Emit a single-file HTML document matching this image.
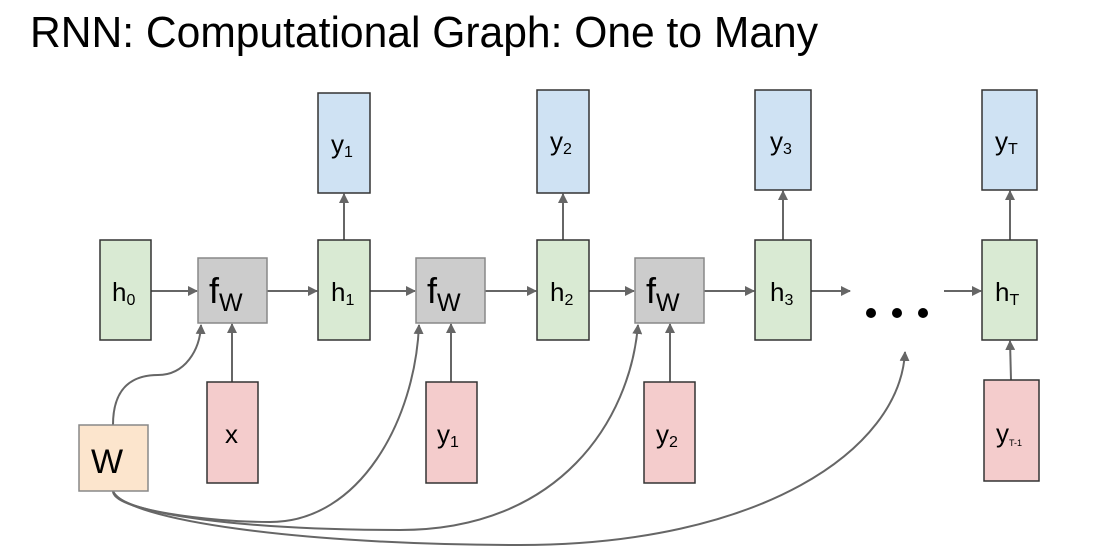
<!DOCTYPE html>
<html><head><meta charset="utf-8"><style>
html,body{margin:0;padding:0;background:#fff}
svg{display:block}
text{font-family:"Liberation Sans",sans-serif;fill:#000}
</style></head><body>
<svg width="1105" height="552" viewBox="0 0 1105 552" xmlns="http://www.w3.org/2000/svg">
<defs>
<marker id="a" viewBox="0 0 10 10" refX="9" refY="5" markerWidth="5" markerHeight="5" orient="auto-start-reverse">
<path d="M0,0 L10,5 L0,10 z" fill="#666"/></marker>
</defs>
<text x="30" y="47" font-size="44" textLength="788" lengthAdjust="spacingAndGlyphs">RNN: Computational Graph: One to Many</text>

<g stroke="#666" stroke-width="2" fill="none" marker-end="url(#a)">
<line x1="151" y1="291" x2="197" y2="291"/>
<line x1="267" y1="291" x2="317" y2="291"/>
<line x1="370" y1="291" x2="415" y2="291"/>
<line x1="485" y1="291" x2="536" y2="291"/>
<line x1="589" y1="291" x2="634" y2="291"/>
<line x1="704" y1="291" x2="754" y2="291"/>
<line x1="811" y1="291" x2="850" y2="291"/>
<line x1="944" y1="291" x2="981" y2="291"/>
<line x1="344" y1="240" x2="344" y2="194"/>
<line x1="563" y1="240" x2="563" y2="194"/>
<line x1="783" y1="240" x2="783" y2="191"/>
<line x1="1010" y1="240" x2="1010" y2="191"/>
<line x1="232" y1="382" x2="232" y2="324"/>
<line x1="451" y1="382" x2="451" y2="324"/>
<line x1="670" y1="382" x2="670" y2="324"/>
<line x1="1011" y1="380" x2="1010" y2="341"/>
<path d="M113,425 C113,390 130,375 158,375 C185,375 200,350 201,325"/>
<path d="M113,491 C113,510 210,522 270,522 C360,522 415,420 419,325"/>
<path d="M113,491 C120,515 250,530 400,530 C560,530 630,420 638,325"/>
<path d="M113,491 C125,520 300,545 520,545 C760,545 900,450 905,352"/>
</g>

<g stroke="#333" stroke-width="1.5">
<rect x="100" y="240" width="51" height="100" fill="#d9ead3"/>
<rect x="318" y="240" width="52" height="100" fill="#d9ead3"/>
<rect x="537" y="240" width="52" height="100" fill="#d9ead3"/>
<rect x="755" y="240" width="56" height="100" fill="#d9ead3"/>
<rect x="982" y="240" width="55" height="100" fill="#d9ead3"/>
<rect x="318" y="93" width="52" height="100" fill="#cfe2f3"/>
<rect x="537" y="90" width="52" height="103" fill="#cfe2f3"/>
<rect x="755" y="90" width="56" height="100" fill="#cfe2f3"/>
<rect x="982" y="90" width="55" height="100" fill="#cfe2f3"/>
<rect x="207" y="382" width="51" height="101" fill="#f4cccc"/>
<rect x="426" y="382" width="51" height="101" fill="#f4cccc"/>
<rect x="644" y="382" width="51" height="101" fill="#f4cccc"/>
<rect x="984" y="380" width="55" height="101" fill="#f4cccc"/>
</g>
<g stroke="#888" stroke-width="1.5">
<rect x="198" y="258" width="69" height="65" fill="#cccccc"/>
<rect x="416" y="258" width="69" height="65" fill="#cccccc"/>
<rect x="635" y="258" width="69" height="65" fill="#cccccc"/>
<rect x="79" y="425" width="69" height="66" fill="#fce5cd"/>
</g>

<g font-size="26">
<text x="112" y="301">h<tspan font-size="16" dy="4">0</tspan></text>
<text x="331" y="301">h<tspan font-size="16" dy="4">1</tspan></text>
<text x="550" y="301">h<tspan font-size="16" dy="4">2</tspan></text>
<text x="770" y="301">h<tspan font-size="16" dy="4">3</tspan></text>
<text x="995" y="301">h<tspan font-size="16" dy="4">T</tspan></text>
<text x="331" y="153">y<tspan font-size="16" dy="4">1</tspan></text>
<text x="550" y="150">y<tspan font-size="16" dy="4">2</tspan></text>
<text x="770" y="150">y<tspan font-size="16" dy="4">3</tspan></text>
<text x="995" y="150">y<tspan font-size="16" dy="4">T</tspan></text>
<text x="225" y="443">x</text>
<text x="437" y="443">y<tspan font-size="16" dy="4">1</tspan></text>
<text x="656" y="443">y<tspan font-size="16" dy="4">2</tspan></text>
<text x="996" y="442">y<tspan font-size="9" dy="4">T-1</tspan></text>
</g>
<g font-size="36">
<text x="209" y="303">f<tspan font-size="25" dy="8">W</tspan></text>
<text x="427" y="303">f<tspan font-size="25" dy="8">W</tspan></text>
<text x="646" y="303">f<tspan font-size="25" dy="8">W</tspan></text>
<text x="91" y="473" font-size="34">W</text>
</g>
<circle cx="871" cy="313" r="5" fill="#000"/>
<circle cx="897" cy="313" r="5" fill="#000"/>
<circle cx="923" cy="313" r="5" fill="#000"/>
</svg>
</body></html>
